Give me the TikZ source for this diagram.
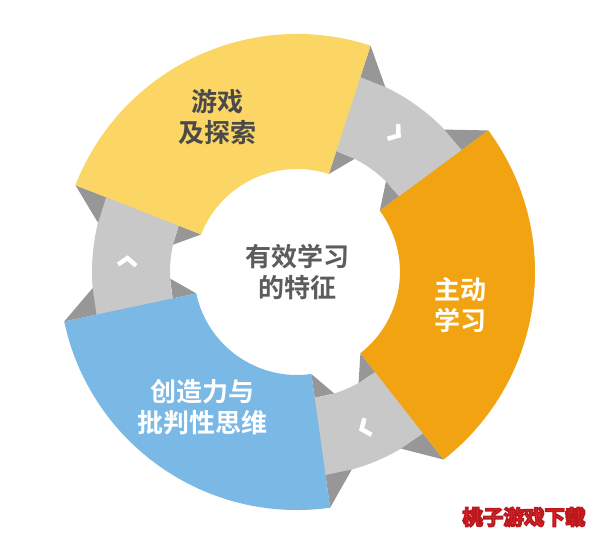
\documentclass[tikz,border=0pt]{standalone}
\usepackage{fontspec}
\newfontfamily\cjk{Noto Sans CJK SC}[BoldFont={Noto Sans CJK SC Bold}]
\definecolor{segyellow}{HTML}{FBD664}
\definecolor{segorange}{HTML}{F2A312}
\definecolor{segblue}{HTML}{7AB8E6}
\definecolor{bandgray}{HTML}{C8C8C8}
\definecolor{foldgray}{HTML}{979797}
\definecolor{darktext}{HTML}{4A4A4A}
\definecolor{wmred}{HTML}{EA2228}
\tikzset{
  label/.style={font=\cjk\bfseries\fontsize{26}{31}\selectfont, align=center, inner sep=0pt},
  chev/.style={draw=white, line width=4.5pt, line join=miter},
  wm/.style={font=\cjk\bfseries\fontsize{20.5}{24}\selectfont, inner sep=0pt},
}
\newcommand{\annsec}[5]{\fill[#1] (#2:#4) arc[start angle=#2, end angle=#3, radius=#4] -- (#3:#5) arc[start angle=#3, end angle=#2, radius=#5] -- cycle;}
\newcommand{\outlined}[1]{\special{pdf:literal direct 2 Tr 1.5 w 0.72 0.1 0.12 RG}#1\special{pdf:literal direct 0 Tr}}
\begin{document}
\begin{tikzpicture}[x=1pt,y=1pt]
\useasboundingbox (0,0) rectangle (594,535);
\fill[white] (0,0) rectangle (594,535);
\coordinate (C) at (297,263);
\begin{scope}[shift={(C)}]
  % gray connector bands
  \annsec{bandgray}{34}{74}{205}{127}
  \annsec{bandgray}{156}{194}{205}{127}
  \annsec{bandgray}{276}{310}{205}{127}
  % fold triangles
  \foreach \a/\s in {72/-1, 158.6/1, 192/-1, 278/1, 308/-1, 36.5/1}{
    \fill[foldgray] (\a:238) -- (\a:205) -- ({\a+\s*7.5}:205) -- cycle;
    \fill[foldgray] (\a:103) -- (\a:127) -- ({\a+\s*9}:127) -- cycle;
  }
  % coloured segments
  \annsec{segyellow}{72}{158.6}{238}{103}
  \annsec{segorange}{-52}{36.5}{238}{103}
  \annsec{segblue}{192}{278}{238}{103}
  % direction chevrons
  \draw[chev, shift={(176:170)}, rotate=86] (-5,9) -- (2,0) -- (-5,-9);
  \draw[chev, shift={(54:170)}, rotate=-36] (-5,9) -- (2,0) -- (-5,-9);
  \draw[chev, shift={(-67:170)}, rotate=-157] (-5,9) -- (2,0) -- (-5,-9);
\end{scope}
% labels
\node[label, text=darktext] (play) at (217,418) {游戏\\及探索};
\node[label, text=darktext!90] (center) at (297,263) {有效学习\\的特征};
\node[label, text=white] (active) at (460,230) {主动\\学习};
\node[label, text=white] (crea) at (202,128) {创造力与\\批判性思维};
% watermark
\node[wm, text=wmred] (wm) at (524,18) {\outlined{桃子游戏下载}};
\end{tikzpicture}
\end{document}
